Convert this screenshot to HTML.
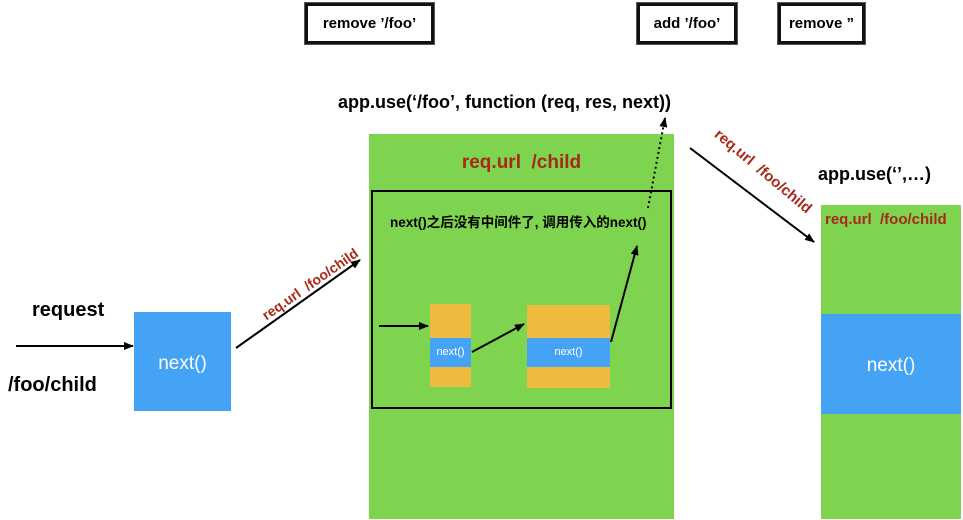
<!DOCTYPE html>
<html><head><meta charset="utf-8"><style>
body{margin:0;width:963px;height:520px;background:#fff;position:relative;overflow:hidden;font-family:"Liberation Sans","Noto Sans CJK SC",sans-serif;font-weight:bold}
.a{position:absolute}
.stamp{position:absolute;border:3px solid #111;box-shadow:0 0 0 1px #555;background:#fff;font-size:15px;color:#000;display:flex;align-items:center;justify-content:center}
.red{color:#a8281a}
</style></head><body>
<div class="stamp" style="left:305px;top:3px;width:123px;height:35px">remove ’/foo’</div>
<div class="stamp" style="left:637px;top:3px;width:94px;height:35px">add ’/foo’</div>
<div class="stamp" style="left:778px;top:3px;width:81px;height:35px">remove ”</div>

<div class="a" style="left:338px;top:92px;font-size:18px">app.use(‘/foo’, function (req, res, next))</div>

<div class="a" style="left:369px;top:134px;width:305px;height:385px;background:#7ed44f"></div>
<div class="a red" style="left:369px;top:152px;width:305px;text-align:center;font-size:19px">req.url&nbsp;&nbsp;/child</div>
<div class="a" style="left:371px;top:190px;width:297px;height:215px;border:2px solid #000"></div>
<div class="a" style="left:390px;top:211px;font-size:13.5px;white-space:nowrap">next()之后没有中间件了, 调用传入的next()</div>

<div class="a" style="left:430px;top:304px;width:41px;height:83px;background:#efbb3e"></div>
<div class="a" style="left:430px;top:338px;width:41px;height:29px;background:#45a3f5;color:#fff;font-size:11px;font-weight:normal;line-height:29px;text-align:center">next()</div>
<div class="a" style="left:527px;top:305px;width:83px;height:83px;background:#efbb3e"></div>
<div class="a" style="left:527px;top:338px;width:83px;height:29px;background:#45a3f5;color:#fff;font-size:11px;font-weight:normal;line-height:29px;text-align:center">next()</div>

<div class="a" style="left:134px;top:312px;width:97px;height:99px;background:#45a3f5;color:#fff;font-size:19px;font-weight:normal;line-height:104px;text-align:center">next()</div>
<div class="a" style="left:32px;top:299px;font-size:20px">request</div>
<div class="a" style="left:8px;top:374px;font-size:20px">/foo/child</div>

<div class="a" style="left:821px;top:205px;width:140px;height:314px;background:#7ed44f"></div>
<div class="a" style="left:821px;top:314px;width:140px;height:100px;background:#45a3f5;color:#fff;font-size:19px;font-weight:normal;line-height:104px;text-align:center">next()</div>
<div class="a red" style="left:825px;top:211px;font-size:15px">req.url&nbsp;&nbsp;/foo/child</div>
<div class="a" style="left:818px;top:164px;font-size:18px">app.use(‘’,…)</div>

<div class="a red" style="left:230px;top:276px;width:160px;text-align:center;font-size:14px;transform:rotate(-35deg)">req.url&nbsp;&nbsp;/foo/child</div>
<div class="a red" style="left:678px;top:163px;width:170px;text-align:center;font-size:15px;transform:rotate(40deg)">req.url&nbsp;&nbsp;/foo/child</div>

<svg class="a" style="left:0;top:0" width="963" height="520">
<defs><marker id="m" markerWidth="10" markerHeight="8" refX="9" refY="4" orient="auto" markerUnits="userSpaceOnUse"><path d="M0,0L10,4L0,8z" fill="#000"/></marker></defs>
<g stroke="#000" stroke-width="2" fill="none">
<line x1="16" y1="346" x2="133" y2="346" marker-end="url(#m)"/>
<line x1="236" y1="348" x2="360" y2="260" marker-end="url(#m)"/>
<line x1="690" y1="148" x2="814" y2="242" marker-end="url(#m)"/>
<line x1="379" y1="326" x2="428" y2="326" marker-end="url(#m)"/>
<line x1="472" y1="352" x2="524" y2="324" marker-end="url(#m)"/>
<line x1="611" y1="342" x2="637" y2="246" marker-end="url(#m)"/>
<line x1="648" y1="208" x2="665" y2="118" stroke-dasharray="2,3" marker-end="url(#m)"/>
</g></svg>
</body></html>
